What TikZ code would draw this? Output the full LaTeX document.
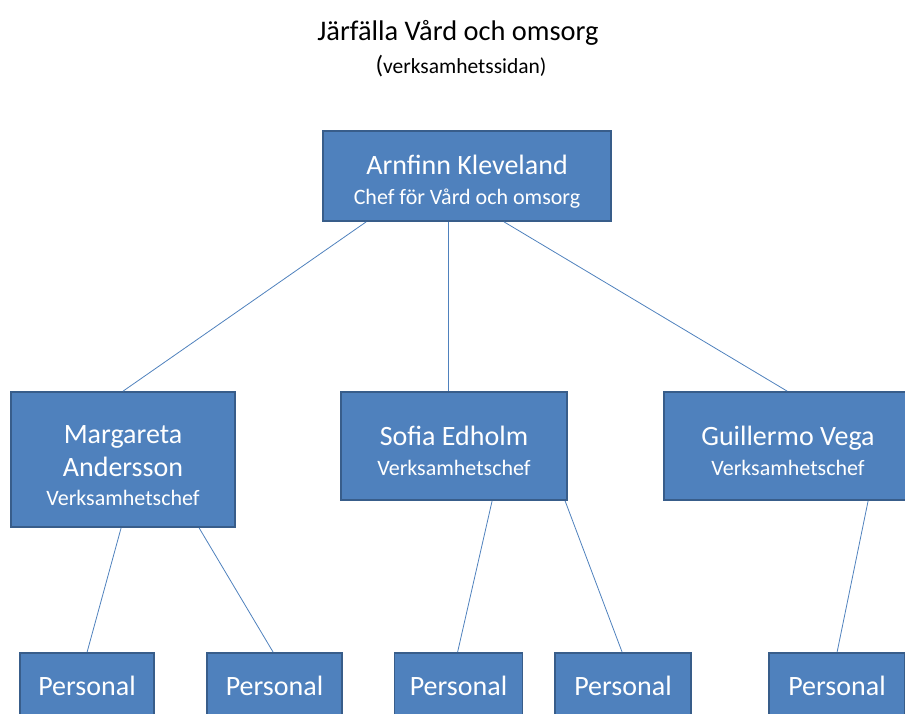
\documentclass[tikz,border=0pt]{standalone}
\usepackage{fontspec}
\setmainfont{Carlito}
\usetikzlibrary{calc}
\definecolor{boxfill}{HTML}{4F81BD}
\definecolor{boxedge}{HTML}{385D8A}
\definecolor{linkc}{HTML}{4F81BD}
\newcommand{\bigf}{\fontsize{28}{30}\selectfont}
\newcommand{\smallf}{\fontsize{22}{30}\selectfont}
\newcommand{\lowerstrut}{\rule{0pt}{30pt}}
\tikzset{
  orgbox/.style={draw=boxedge, line width=1.8pt, fill=boxfill, text=white, align=center, inner sep=0pt, font=\smallf},
  link/.style={draw=linkc, line width=0.8pt},
  titletext/.style={anchor=base, text=black, inner sep=0pt}
}
\begin{document}
\begin{tikzpicture}[x=1pt,y=-1pt]
\useasboundingbox (0,0) rectangle (905,713);
\clip (0,0) rectangle (905,713);
\node[titletext, font={\fontsize{28.4}{30}\selectfont}] (title) at (458,40) {Järfälla Vård och omsorg};
\node[titletext, font={\fontsize{21.5}{30}\selectfont}] (sub) at (461,73) {{\fontsize{25}{30}\selectfont (}verksamhetssidan)};

\node[orgbox, minimum width=288, minimum height=90] (top) at (467,176)
  {\lowerstrut\bigf Arnfinn Kleveland\\\smallf Chef för Vård och omsorg};
\node[orgbox, minimum width=224, minimum height=135] (marg) at (123,459.5)
  {\lowerstrut\bigf Margareta\\[3pt]\bigf Andersson\\[-1pt]\smallf Verksamhetschef};
\node[orgbox, minimum width=226, minimum height=108] (sofia) at (454,446)
  {\lowerstrut\bigf Sofia Edholm\\\smallf Verksamhetschef};
\node[orgbox, minimum width=248, minimum height=108] (guil) at (788,446)
  {\lowerstrut\bigf Guillermo Vega\\\smallf Verksamhetschef};

\node[orgbox, minimum width=134, minimum height=66, font=\bigf] (p1) at (87,686) {Personal};
\node[orgbox, minimum width=135, minimum height=66, font=\bigf] (p2) at (274.5,686) {Personal};
\node[orgbox, minimum width=128, minimum height=66, font=\bigf] (p3) at (458.5,686) {Personal};
\node[orgbox, minimum width=136, minimum height=66, font=\bigf] (p4) at (623,686) {Personal};
\node[orgbox, minimum width=136, minimum height=66, font=\bigf] (p5) at (837,686) {Personal};

\draw[link] ($(top.south west)+(44,0)$) -- ($(marg.north west)+(113,0)$);
\draw[link] ($(top.south west)+(126,0)$) -- ($(sofia.north west)+(108,0)$);
\draw[link] ($(top.south west)+(182,0)$) -- ($(guil.north west)+(124,0)$);
\draw[link] ($(marg.south west)+(111,0)$) -- ($(p1.north west)+(68,0)$);
\draw[link] ($(marg.south west)+(189,0)$) -- ($(p2.north west)+(67,0)$);
\draw[link] ($(sofia.south west)+(152,0)$) -- ($(p3.north west)+(64,0)$);
\draw[link] ($(sofia.south west)+(225,0)$) -- ($(p4.north west)+(68,0)$);
\draw[link] ($(guil.south west)+(205,0)$) -- ($(p5.north west)+(69,0)$);
\end{tikzpicture}
\end{document}
